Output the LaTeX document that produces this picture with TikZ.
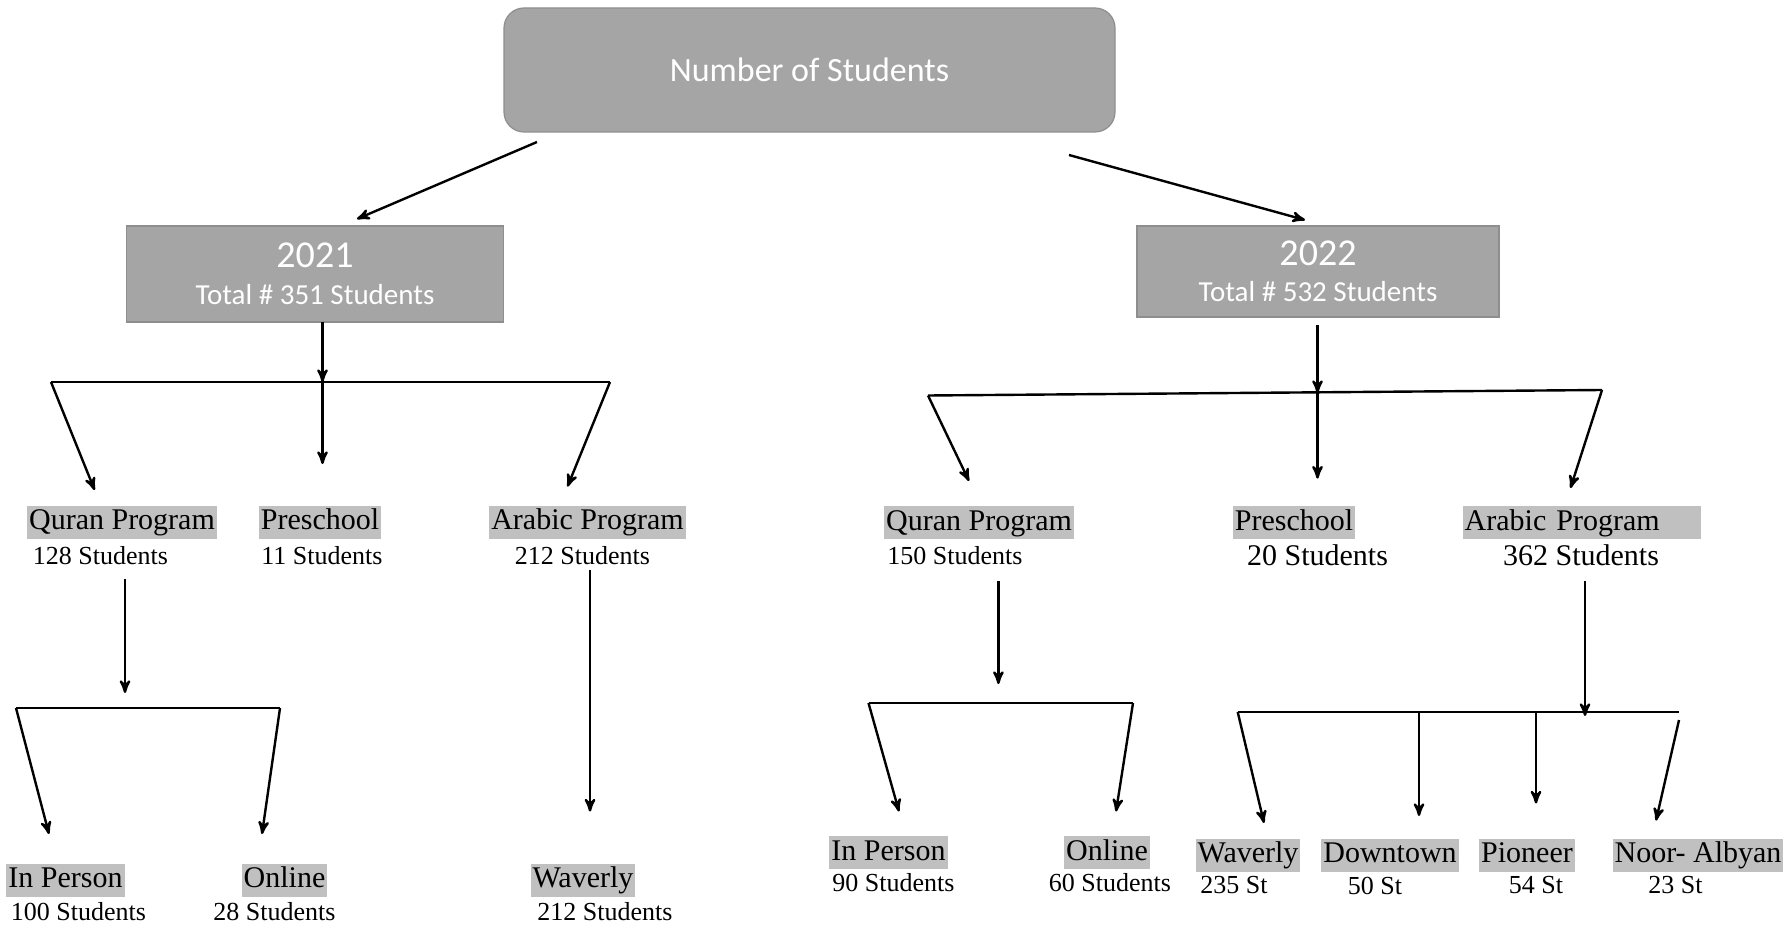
\documentclass[tikz,border=0pt]{standalone}
\usepackage{fontspec}
\setmainfont{Liberation Serif}
\newfontfamily\boxfont{Carlito}
\usetikzlibrary{arrows}
\definecolor{boxgray}{HTML}{A5A5A5}
\definecolor{boxline}{HTML}{8E8E8E}
\definecolor{hlgray}{HTML}{C0C0C0}

\begin{document}
\begin{tikzpicture}[->,>=stealth',x=0.5pt,y=-0.5pt,line width=1.2pt]

  \tikzstyle{head}=[fill=boxgray,draw=boxline,line width=0.6pt,text=white,
                    font=\boxfont,align=center,inner sep=0pt]
  \tikzstyle{lbl}=[fill=hlgray,inner xsep=1pt,inner ysep=1pt,text height=11pt,
                   text depth=3.5pt,font=\fontsize{15}{16}\selectfont]
  \tikzstyle{cnt}=[inner sep=0pt,font=\fontsize{13}{14}\selectfont]
  \tikzstyle{bigcnt}=[cnt,font=\fontsize{15}{16}\selectfont]
  \tikzstyle{bar}=[-]

  \useasboundingbox (0,0) rectangle (1787,930);

  % head boxes
  \node[head,rounded corners=10pt,minimum width=305.5pt,minimum height=62pt]
    (top) at (809.5,70) {\fontsize{17}{20}\selectfont Number of Students};
  \node[head,minimum width=188.5pt,minimum height=48pt] (y21) at (315,274)
    {{\fontsize{19}{20}\selectfont 2021}\\[6.5pt]\fontsize{14.5}{17}\selectfont Total \# 351 Students};
  \node[head,minimum width=181pt,minimum height=45.5pt] (y22) at (1318,271.5)
    {{\fontsize{19}{20}\selectfont 2022}\\[6pt]\fontsize{14.5}{17}\selectfont Total \# 532 Students};

  % 2021
  \node[lbl] (quran21) at (122,522)   {Quran Program};
  \node[cnt] (quran21n) at (100.5,556) {128 Students};
  \node[lbl] (pre21) at (320,522)     {Preschool};
  \node[cnt] (pre21n) at (322,556)    {11 Students};
  \node[lbl] (arab21) at (587.5,522)  {Arabic Program};
  \node[cnt] (arab21n) at (582.5,556) {212 Students};

  \node[lbl] (pers21) at (65.5,880)  {In Person};
  \node[cnt] (pers21n) at (78.5,912)   {100 Students};
  \node[lbl] (onl21) at (284.5,880)  {Online};
  \node[cnt] (onl21n) at (274.5,912)   {28 Students};
  \node[lbl] (wav21) at (583,880)    {Waverly};
  \node[cnt] (wav21n) at (605,912)     {212 Students};

  % 2022
  \node[lbl] (quran22) at (979,522.5)   {Quran Program};
  \node[cnt] (quran22n) at (955,556)    {150 Students};
  \node[lbl] (pre22) at (1294,522.5)    {Preschool};
  \node[bigcnt] (pre22n) at (1317.5,555) {20 Students};
  \node[lbl,text width=117.3pt,align=left] (arab22) at (1582,522.5) {Arabic Program};
  \node[bigcnt] (arab22n) at (1581,555)  {362 Students};

  \node[lbl] (pers22) at (888.5,852.5)  {In Person};
  \node[cnt] (pers22n) at (893.5,883) {90 Students};
  \node[lbl] (onl22) at (1107,852.5)    {Online};
  \node[cnt] (onl22n) at (1110,883)   {60 Students};
  \node[lbl] (wav22) at (1248,855)  {Waverly};
  \node[cnt] (wav22n) at (1234,885.5) {235 St};
  \node[lbl] (down22) at (1390,855) {Downtown};
  \node[cnt] (down22n) at (1375,885.5) {50 St};
  \node[lbl] (pion22) at (1527,855) {Pioneer};
  \node[cnt] (pion22n) at (1536,885.5) {54 St};
  \node[lbl] (noor22) at (1698,855) {Noor- Albyan};
  \node[cnt] (noor22n) at (1675.5,885.5) {23 St};

  % arrow ends
  \coordinate (t21) at (537,142);   \coordinate (h21) at (357,219);
  \coordinate (t22) at (1069,155);  \coordinate (h22) at (1305,220);

  \coordinate (s21) at (322.5,322.5);
  \coordinate (b21l) at (51,382);   \coordinate (b21m) at (322.5,382);
  \coordinate (b21r) at (610,382);
  \coordinate (q21) at (94.6,490);  \coordinate (p21) at (322.5,464);
  \coordinate (a21) at (567.5,486.6);

  \coordinate (s21q) at (125,579);  \coordinate (e21q) at (125,693);
  \coordinate (c21l) at (16,708);   \coordinate (c21r) at (280,708);
  \coordinate (i21) at (49,834);    \coordinate (o21) at (262,834);
  \coordinate (s21a) at (590,570);  \coordinate (w21) at (590,811.5);

  \coordinate (s22) at (1317.5,325);
  \coordinate (b22l) at (928,395.5); \coordinate (b22m) at (1317.5,393);
  \coordinate (b22r) at (1602,390);
  \coordinate (q22) at (969,481);    \coordinate (p22) at (1317.5,478.6);
  \coordinate (a22) at (1570.5,488);

  \coordinate (s22q) at (998.4,581); \coordinate (e22q) at (998.4,684);
  \coordinate (c22l) at (868.5,703); \coordinate (c22r) at (1133,703);
  \coordinate (i22) at (899,811.5);  \coordinate (o22) at (1116,811.5);

  \coordinate (s22a) at (1585,581);  \coordinate (e22a) at (1585,716);
  \coordinate (d22l) at (1237.7,712); \coordinate (d22r) at (1679,712);
  \coordinate (d22a) at (1419,712);  \coordinate (d22b) at (1536,712);
  \coordinate (d22c) at (1679,720);
  \coordinate (w22) at (1264,823);   \coordinate (dt22) at (1419,816);
  \coordinate (pi22) at (1536,803.5); \coordinate (no22) at (1656,820.6);

  \draw[bar] (b21l) -- (b21r);
  \draw[bar] (c21l) -- (c21r);
  \draw[bar] (b22l) -- (b22r);
  \draw[bar] (c22l) -- (c22r);
  \draw[bar] (d22l) -- (d22r);

  \path
  (t21) edge (h21)
  (t22) edge (h22)

  (s21) edge (b21m)
  (b21l) edge (q21)
  (b21m) edge (p21)
  (b21r) edge (a21)
  (s21q) edge (e21q)
  (c21l) edge (i21)
  (c21r) edge (o21)
  (s21a) edge (w21)

  (s22) edge (b22m)
  (b22l) edge (q22)
  (b22m) edge (p22)
  (b22r) edge (a22)
  (s22q) edge (e22q)
  (c22l) edge (i22)
  (c22r) edge (o22)
  (s22a) edge (e22a)
  (d22l) edge (w22)
  (d22a) edge (dt22)
  (d22b) edge (pi22)
  (d22c) edge (no22)
  ;
\end{tikzpicture}
\end{document}
